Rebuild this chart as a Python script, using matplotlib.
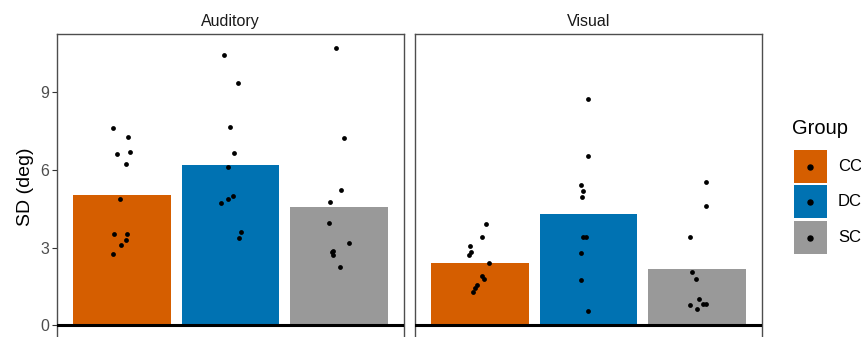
import matplotlib
matplotlib.use("Agg")
import matplotlib.pyplot as plt
from matplotlib.patches import Rectangle

plt.rcParams['font.family'] = ['Liberation Sans', 'DejaVu Sans']

groups = ["CC", "DC", "SC"]
colors = ["#D55E00", "#0072B2", "#999999"]
panels = ["Auditory", "Visual"]

aud_means = [5.03, 6.18, 4.56]
vis_means = [2.39, 4.29, 2.16]

aud_cc = [7.61, 7.26, 6.63, 6.68, 6.22, 4.87, 3.51, 3.51, 3.28, 3.08, 2.74]
aud_cc_jit = [-0.086, 0.055, -0.046, 0.071, 0.037, -0.018, -0.071, 0.043, 0.037, -0.009, -0.086]
aud_dc = [10.45, 9.37, 7.66, 6.66, 6.13, 4.71, 4.88, 5.00, 3.59, 3.37]
aud_dc_jit = [-0.060, 0.069, 0.0, 0.029, -0.023, -0.088, -0.020, 0.023, 0.100, 0.078]
aud_sc = [10.71, 7.25, 5.21, 4.75, 3.94, 3.19, 2.83, 2.87, 2.72, 2.25]
aud_sc_jit = [-0.026, 0.048, 0.020, -0.084, -0.091, 0.091, -0.060, -0.051, -0.054, 0.014]

vis_cc = [3.89, 3.42, 3.04, 2.83, 2.70, 2.41, 1.89, 1.80, 1.57, 1.43, 1.30]
vis_cc_jit = [0.058, 0.022, -0.089, -0.083, -0.101, 0.086, 0.022, 0.037, -0.031, -0.043, -0.065]
vis_dc = [8.75, 6.54, 5.42, 5.20, 4.97, 3.41, 3.41, 2.78, 1.75, 0.54]
vis_dc_jit = [0.0, -0.006, -0.071, -0.052, -0.058, -0.052, -0.022, -0.068, -0.068, 0.0]
vis_sc = [5.55, 4.61, 3.41, 2.06, 1.79, 1.00, 0.79, 0.64, 0.81, 0.82]
vis_sc_jit = [0.080, 0.083, -0.061, -0.046, -0.009, 0.015, -0.065, -0.003, 0.058, 0.080]

means = {"Auditory": aud_means, "Visual": vis_means}
points = {"Auditory": [(aud_cc, aud_cc_jit), (aud_dc, aud_dc_jit), (aud_sc, aud_sc_jit)],
          "Visual": [(vis_cc, vis_cc_jit), (vis_dc, vis_dc_jit), (vis_sc, vis_sc_jit)]}
yticks = [0, 3, 6, 9]

W, H = 862, 337
fig = plt.figure(figsize=(W / 100, H / 100), dpi=100)

ax_top = 34
ax_bot = 339
lefts = [57, 415]
width = 347
for i, p in enumerate(panels):
    ax = fig.add_axes([lefts[i] / W, (H - ax_bot) / H, width / W, (ax_bot - ax_top) / H])
    ax.bar(range(3), means[p], width=0.9, color=colors, zorder=2)
    for g, (vals, jit) in enumerate(points[p]):
        ax.scatter([g + j for j in jit], vals, s=12, color="black", zorder=3, linewidths=0)
    ax.axhline(0, color="black", lw=2.2, zorder=4)
    ax.set_xlim(-0.6, 2.6)
    ax.set_ylim(-0.535, 11.25)
    ax.set_xticks([])
    ax.set_yticks(yticks)
    if i == 0:
        ax.set_yticklabels([str(t) for t in yticks], fontsize=11.5, color="#4D4D4D")
        ax.tick_params(axis="y", length=3.5, width=0.8, color="#333333", pad=2)
        ax.set_ylabel("SD (deg)", fontsize=14, labelpad=5)
    else:
        ax.tick_params(axis="y", length=0, labelleft=False)
    for s in ax.spines.values():
        s.set_color("#4D4D4D")
        s.set_linewidth(1.0)
    ax.set_title(p, fontsize=11.5, pad=6, color="#1A1A1A")

# legend drawn in a figure-level overlay axes (pixel coordinates)
lax = fig.add_axes([0, 0, 1, 1])
lax.set_xlim(0, W)
lax.set_ylim(H, 0)
lax.axis("off")
lax.text(792, 129, "Group", fontsize=14.5, va="center", ha="left", color="black")
key_tops = [150, 185, 221]
for g, c in enumerate(colors):
    y0 = key_tops[g]
    lax.add_patch(Rectangle((794, y0), 33, 33, facecolor=c, edgecolor="none"))
    lax.plot([810.5], [y0 + 16.5], marker="o", color="black", markersize=3.6, linestyle="none")
    lax.text(838, y0 + 16.5, groups[g], fontsize=12, va="center", ha="left", color="black")

fig.savefig("out.png", dpi=100)
